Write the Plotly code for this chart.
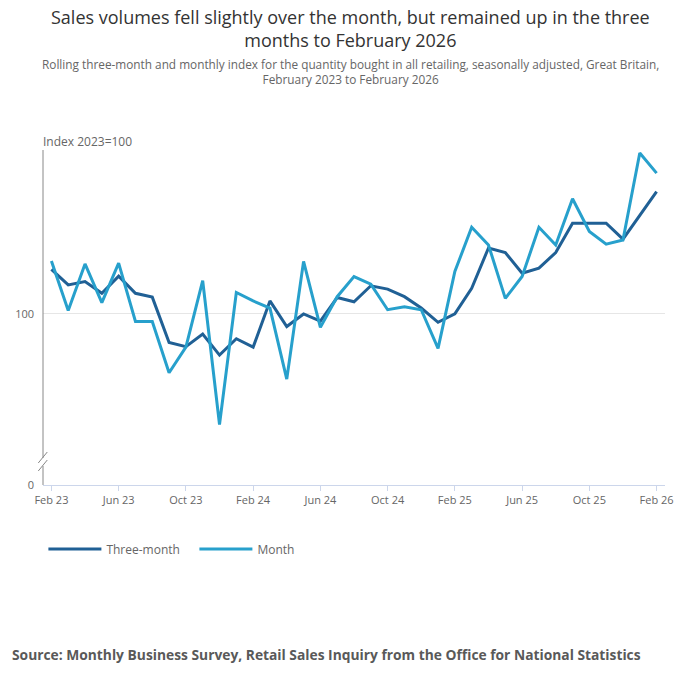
import plotly.graph_objects as go

# months Feb 2023 - Feb 2026
months = ["Feb 23", "Mar 23", "Apr 23", "May 23", "Jun 23", "Jul 23", "Aug 23", "Sep 23",
          "Oct 23", "Nov 23", "Dec 23", "Jan 24", "Feb 24", "Mar 24", "Apr 24", "May 24",
          "Jun 24", "Jul 24", "Aug 24", "Sep 24", "Oct 24", "Nov 24", "Dec 24", "Jan 25",
          "Feb 25", "Mar 25", "Apr 25", "May 25", "Jun 25", "Jul 25", "Aug 25", "Sep 25",
          "Oct 25", "Nov 25", "Dec 25", "Jan 26", "Feb 26"]

# rolling three-month index (2023=100)
three_month = [101.06, 100.69, 100.77, 100.49, 100.90, 100.49, 100.40, 99.32,
               99.22, 99.52, 99.02, 99.41, 99.21, 100.31, 99.70, 100.00,
               99.83, 100.39, 100.29, 100.67, 100.59, 100.41, 100.14, 99.80,
               100.00, 100.61, 101.57, 101.46, 100.97, 101.09, 101.46, 102.16,
               102.16, 102.16, 101.78, 102.36, 102.91]

# monthly index (2023=100)
month = [101.26, 100.08, 101.19, 100.27, 101.21, 99.82, 99.82, 98.60,
         99.21, 100.79, 97.37, 100.51, 100.31, 100.14, 98.45, 101.25,
         99.68, 100.41, 100.89, 100.71, 100.10, 100.17, 100.10, 99.18,
         101.01, 102.06, 101.64, 100.37, 100.89, 102.06, 101.64, 102.74,
         101.96, 101.66, 101.76, 103.83, 103.35]

tick_labels = ["Feb 23", "Jun 23", "Oct 23", "Feb 24", "Jun 24", "Oct 24",
               "Feb 25", "Jun 25", "Oct 25", "Feb 26"]

# broken axis: bottom of the axis is labelled 0
Y_BOTTOM = 95.93
Y_TOP = 103.9

FONT = "Open Sans"
DARK = "#206095"
LIGHT = "#27a0cc"
GREY = "#666666"

fig = go.Figure()
fig.add_trace(go.Scatter(x=months, y=three_month, mode="lines", name="Three-month",
                         line=dict(color=DARK, width=3)))
fig.add_trace(go.Scatter(x=months, y=month, mode="lines", name="Month",
                         line=dict(color=LIGHT, width=3)))

fig.update_layout(
    width=700, height=682,
    margin=dict(l=43, r=35, t=150, b=197),
    paper_bgcolor="white", plot_bgcolor="white",
    font=dict(family=FONT, color=GREY, size=12),
    showlegend=True,
    legend=dict(orientation="h", xref="container", yref="container", x=0.062, y=0.195,
                xanchor="left", yanchor="middle", itemwidth=53,
                entrywidth=83, entrywidthmode="pixels",
                font=dict(size=12, color=GREY), bgcolor="rgba(0,0,0,0)"),
    hovermode="x unified",
)

fig.update_xaxes(
    type="category", range=[-0.5, len(months) - 0.5],
    tickmode="array", tickvals=tick_labels, ticktext=tick_labels,
    showline=True, linecolor="#ccd6eb", linewidth=1,
    ticks="outside", ticklen=5, tickcolor="#ccd6eb",
    showgrid=False, tickfont=dict(size=11, color=GREY),
)
fig.update_yaxes(
    range=[Y_BOTTOM, Y_TOP], tickmode="array", tickvals=[Y_BOTTOM, 100], ticktext=["0", "100"],
    showgrid=True, gridcolor="#e6e6e6", gridwidth=1, zeroline=False,
    showline=False, ticks="", ticklabelstandoff=8, tickfont=dict(size=11, color=GREY),
)

# y axis line drawn in two pieces with a break symbol
AX = "#888888"
fig.add_shape(type="line", xref="paper", yref="paper", x0=0, x1=0, y0=0.0806, y1=1,
              line=dict(color=AX, width=1))
fig.add_shape(type="line", xref="paper", yref="paper", x0=0, x1=0, y0=0, y1=0.0567,
              line=dict(color=AX, width=1))
fig.add_shape(type="line", xref="paper", yref="paper", x0=-0.0076, x1=0.0069, y0=0.0657, y1=0.0985,
              line=dict(color=AX, width=1))
fig.add_shape(type="line", xref="paper", yref="paper", x0=-0.0076, x1=0.0069, y0=0.0418, y1=0.0746,
              line=dict(color=AX, width=1))

# title
fig.add_annotation(text="Sales volumes fell slightly over the month, but remained up in the three<br>months to February 2026",
                   xref="paper", yref="paper", x=0.4937, y=1.3612, xanchor="center", yanchor="middle",
                   showarrow=False, font=dict(size=18, color="#333333"))
# subtitle
fig.add_annotation(text="Rolling three-month and monthly index for the quantity bought in all retailing, seasonally adjusted, Great Britain,<br>February 2023 to February 2026",
                   xref="paper", yref="paper", x=0.4937, y=1.2866, xanchor="center", yanchor="top",
                   showarrow=False, font=dict(size=11.8, color=GREY))
# axis title
fig.add_annotation(text="Index 2023=100", xref="paper", yref="paper", x=0, y=1.0239,
                   xanchor="left", yanchor="middle", showarrow=False, xshift=-2,
                   font=dict(size=12, color=GREY))
# source
fig.add_annotation(text="<b>Source: Monthly Business Survey, Retail Sales Inquiry from the Office for National Statistics</b>",
                   xref="paper", yref="paper", x=-0.0525, y=-0.507, xanchor="left", yanchor="middle",
                   showarrow=False, font=dict(size=13.8, color="#595959"))

# drop the page's default body margin so the figure sits at the top-left corner
fig.write_html("out.html", config={"displayModeBar": False},
               post_script="document.body.style.margin = '0px';")
